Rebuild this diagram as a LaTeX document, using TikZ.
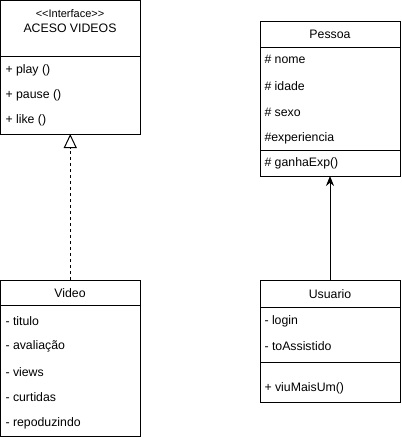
\documentclass[tikz,border=0pt]{standalone}
\usepackage{fontspec}
\setmainfont{Liberation Sans}
\usetikzlibrary{arrows.meta}
\begin{document}
\begin{tikzpicture}[x=1pt,y=-1pt,line width=1pt,
    font=\fontsize{12.3}{14}\selectfont,
    cls/.style={draw,anchor=north west,inner sep=0pt,outer sep=0pt},
    attr/.style={anchor=west,inner sep=0pt},
    ttl/.style={inner sep=0pt}]
  \useasboundingbox (0,0) rectangle (402,440);

  % interface
  \node[cls,minimum width=139.5pt,minimum height=133.5pt] (iface) at (0.5,0.5) {};
  \draw (0.5,56) -- (140,56);
  \node[ttl,font=\fontsize{11}{13}\selectfont] (ifstereo) at (70,14)
    {<\kern0pt<Interface>\kern0pt>};
  \node[ttl] (ifname) at (70,28) {ACESO VIDEOS};
  \node[attr] (play) at (5,70) {+ play ()};
  \node[attr] (pause) at (5,95) {+ pause ()};
  \node[attr] (like) at (5,120) {+ like ()};

  % video
  \node[cls,minimum width=139.5pt,minimum height=156pt] (video) at (0.5,280) {};
  \draw (0.5,305) -- (140,305);
  \node[ttl] (vidname) at (70,293) {Video};
  \node[attr] (titulo) at (5,321) {- titulo};
  \node[attr] (avaliacao) at (5,346) {- avaliação};
  \node[attr] (views) at (5,372) {- views};
  \node[attr] (curtidas) at (5,397) {- curtidas};
  \node[attr] (repoduzindo) at (5,423) {- repoduzindo};

  % pessoa
  \node[cls,minimum width=140pt,minimum height=155pt] (pessoa) at (260,21) {};
  \draw (260,47) -- (400,47);
  \draw (260,150) -- (400,150);
  \node[ttl] (pesname) at (330,34) {Pessoa};
  \node[attr] (nome) at (264,59) {\# nome};
  \node[attr] (idade) at (264,86) {\# idade};
  \node[attr] (sexo) at (264,112) {\# sexo};
  \node[attr] (exper) at (264,138) {\#experiencia};
  \node[attr] (ganha) at (264,163) {\# ganhaExp()};

  % usuario
  \node[cls,minimum width=140pt,minimum height=122pt] (usuario) at (260,280) {};
  \draw (260,307) -- (400,307);
  \draw (260,362) -- (400,362);
  \node[ttl] (usrname) at (330,294) {Usuario};
  \node[attr] (login) at (264,321) {- login};
  \node[attr] (assist) at (264,346) {- toAssistido};
  \node[attr] (viu) at (264,388) {+ viuMaisUm()};

  % relations
  \draw[dash pattern=on 3pt off 3pt,-{Triangle[open,length=14pt,width=13pt]}]
    (video.north) -- (iface.south);
  \draw[-{Stealth[length=10pt,width=8pt]}] (usuario.north) -- (pessoa.south);
\end{tikzpicture}
\end{document}
